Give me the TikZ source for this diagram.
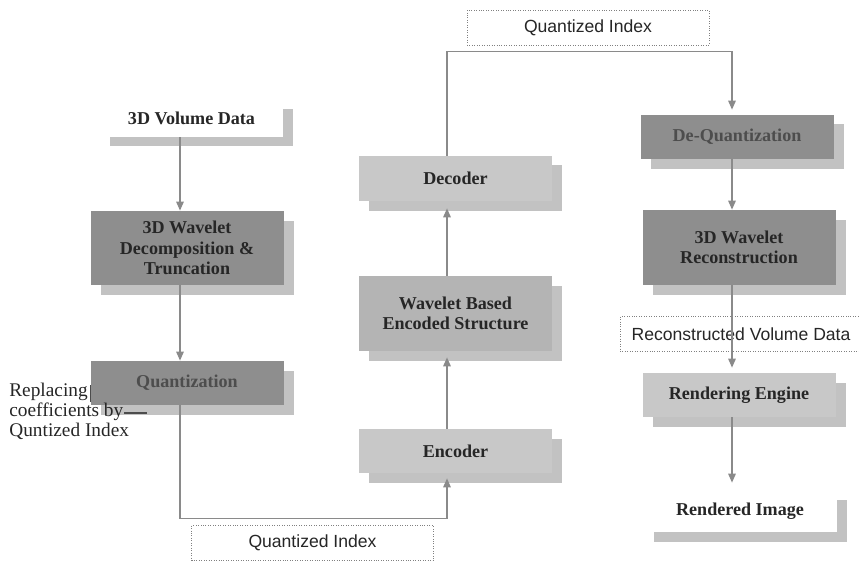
\documentclass[tikz,border=0pt]{standalone}
\usepackage{fontspec}
\setmainfont{Liberation Serif}
\newfontfamily\labelfont{Liberation Sans}
\usepackage{tikz}
\usetikzlibrary{arrows.meta,positioning,shadows}
\definecolor{cdark}{HTML}{8E8E8E}
\definecolor{cmid}{HTML}{B4B4B4}
\definecolor{clight}{HTML}{C8C8C8}
\definecolor{cshade}{HTML}{C2C2C2}
\definecolor{cline}{HTML}{8A8A8A}
\definecolor{ctext}{HTML}{262626}
\definecolor{ctextdim}{HTML}{4D4D4D}

\begin{document}
\begin{tikzpicture}[
    x=0.2mm, y=-0.2mm,
    box/.style={inner sep=0pt, align=center, text=ctext, minimum width=38.6mm,
                font=\fontsize{10.3}{11.6}\selectfont\bfseries,
                general shadow={fill=cshade, shadow xshift=2mm, shadow yshift=-1.9mm}},
    dnode/.style={box, fill=cdark},
    mnode/.style={box, fill=cmid},
    lnode/.style={box, fill=clight},
    wnode/.style={box, fill=white},
    tag/.style={draw=gray, densely dotted, fill=white, minimum width=48.4mm,
                minimum height=7mm, text=ctext, font=\labelfont\fontsize{10}{12}\selectfont},
    note/.style={inner sep=0pt, align=left, text=ctext, font=\fontsize{11}{11.4}\selectfont},
    arr/.style={-{Triangle[length=1.8mm,width=1.5mm]}, line width=0.8pt, draw=cline},
    leader/.style={line width=0.6pt, draw=black!70}
]
\useasboundingbox (0,0) rectangle (859,561);
% left column
\node[wnode, minimum width=36.6mm, minimum height=7.4mm] (vol) at (191.5,118.5) {3D Volume Data};
\node[dnode, minimum height=14.8mm] (decomp) at (187,248) {3D Wavelet\\Decomposition \&\\Truncation};
\node[dnode, minimum height=8.8mm, text=ctextdim] (quant) at (187,383) {Quantization};
\node[note, anchor=west] (note) at (9,411) {Replacing\\coefficients by\\Quntized Index};
% middle column
\node[lnode, minimum height=9mm] (decoder) at (455.5,178.5) {Decoder};
\node[mnode, minimum height=15mm] (wbes) at (455.5,313.5) {Wavelet Based\\Encoded Structure};
\node[lnode, minimum height=8.8mm] (enc) at (455.5,451) {Encoder};
\node[tag] (qtop) at (588,27.5) {Quantized Index};
\node[tag] (qbot) at (312.5,543) {Quantized Index};
% right column
\node[dnode, minimum height=8.8mm, text=ctextdim] (deq) at (737,137) {De-Quantization};
\node[dnode, minimum height=15mm] (recon) at (739,247.5) {3D Wavelet\\Reconstruction};
\node[tag] (recvol) at (741,334) {Reconstructed Volume Data};
\node[lnode, minimum height=8.8mm] (rend) at (739,395) {Rendering Engine};
\node[wnode, minimum height=8.4mm] (rimg) at (740,511) {Rendered Image};

\coordinate (colL) at (180,0);
\coordinate (colM) at (447,0);
\coordinate (colR) at (732,0);

\draw[arr] (vol.south -| colL) -- (decomp.north -| colL);
\draw[arr] (decomp.south -| colL) -- (quant.north -| colL);
\draw[arr] (quant.south -| colL) -- ++(0,113) -| ([yshift=-1mm]enc.south -| colM);
\draw[arr] (enc.north -| colM) -- ([yshift=-1.2mm]wbes.south -| colM);
\draw[arr] (wbes.north -| colM) -- ([yshift=-1.4mm]decoder.south -| colM);
\draw[arr] (decoder.north -| colM) -- ++(0,-104) -| ([yshift=1mm]deq.north -| colR);
\draw[arr] (deq.south -| colR) -- (recon.north -| colR);
\draw[arr] (recon.south -| colR) -- ([yshift=1mm]rend.north -| colR);
\draw[arr] (rend.south -| colR) -- ([yshift=1.4mm]rimg.north -| colR);

\draw[leader] ([yshift=-0.4mm]quant.west) -- ++(0,-3.4mm);
\draw[leader] ([yshift=-0.4mm,xshift=-1mm]note.east) -- ++(4.6mm,0);
\end{tikzpicture}
\end{document}
